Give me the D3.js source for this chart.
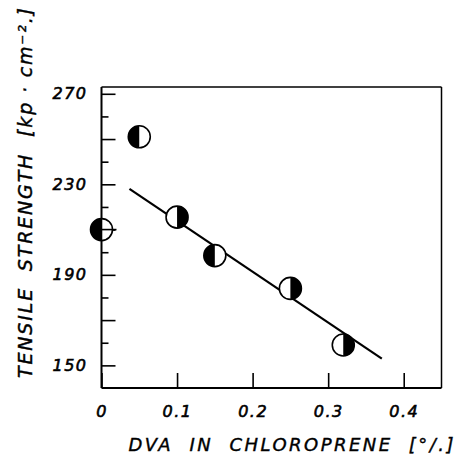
<!DOCTYPE html>
<html>
<head>
<meta charset="utf-8">
<script src="https://cdn.jsdelivr.net/npm/d3@7"></script>
<style>
  body { margin: 0; background: #fff; }
  text { font-family: "DejaVu Sans", sans-serif; font-style: italic; fill: #000; }
</style>
</head>
<body>
<svg id="chart" width="457" height="466"></svg>
<script>
// data
let dva = [0, 0.05, 0.1, 0.15, 0.25, 0.32];
let strength = [210, 251, 215.5, 198.5, 184, 159];
let blackHalf = ["left", "left", "right", "left", "right", "right"];
let fitX = [0.037, 0.371];
let fitY = [228, 153];
let xTicks = [0, 0.1, 0.2, 0.3, 0.4];
let yLabelTicks = [150, 190, 230, 270];
let yLongTicks = [170, 210, 250];
let yShortTicks = [160, 180, 200, 220, 240, 260];

let svg = d3.select("#chart");

let x = d3.scaleLinear().domain([0, 0.45]).range([101.5, 441.5]),
    y = d3.scaleLinear().domain([140, 273]).range([388, 87]);

let fLeft = x(0), fRight = x(0.45), fTop = y(273), fBottom = y(140);

// frame
svg.append("line").attr("x1", fLeft).attr("x2", fRight).attr("y1", fTop).attr("y2", fTop)
  .attr("stroke", "#000").attr("stroke-width", 1.5);
svg.append("line").attr("x1", fRight).attr("x2", fRight).attr("y1", fTop).attr("y2", fBottom)
  .attr("stroke", "#000").attr("stroke-width", 1.5);
svg.append("line").attr("x1", fLeft).attr("x2", fRight).attr("y1", fBottom).attr("y2", fBottom)
  .attr("stroke", "#000").attr("stroke-width", 2);
svg.append("line").attr("x1", fLeft).attr("x2", fLeft).attr("y1", fTop).attr("y2", fBottom)
  .attr("stroke", "#000").attr("stroke-width", 2);

// y axis (ticks inside, labels outside)
let yMajor = svg.append("g")
  .attr("transform", "translate(" + fLeft + ",0)")
  .call(d3.axisLeft(y).tickValues(yLabelTicks).tickSize(-14).tickPadding(14).tickFormat(d3.format("d")));
let yLong = svg.append("g")
  .attr("transform", "translate(" + fLeft + ",0)")
  .call(d3.axisLeft(y).tickValues(yLongTicks).tickSize(-14).tickFormat(""));
let yShort = svg.append("g")
  .attr("transform", "translate(" + fLeft + ",0)")
  .call(d3.axisLeft(y).tickValues(yShortTicks).tickSize(-7).tickFormat(""));

// x axis
let xAxis = svg.append("g")
  .attr("transform", "translate(0," + fBottom + ")")
  .call(d3.axisBottom(x).tickValues(xTicks).tickSize(-15).tickPadding(18)
    .tickFormat(function (d) { return d === 0 ? "0" : d.toFixed(1); }));

[yMajor, yLong, yShort, xAxis].forEach(function (g) {
  g.select(".domain").remove();
  g.selectAll(".tick line").attr("stroke", "#000").attr("stroke-width", 1.6);
  g.selectAll(".tick text")
    .style("font-family", "DejaVu Sans")
    .style("font-style", "italic")
    .style("font-size", "16px")
    .attr("stroke", "#000")
    .attr("stroke-width", 0.6)
    .attr("letter-spacing", 1.5);
});

// fitted line
svg.append("line")
  .attr("x1", x(fitX[0])).attr("y1", y(fitY[0]))
  .attr("x2", x(fitX[1])).attr("y2", y(fitY[1]))
  .attr("stroke", "#000").attr("stroke-width", 2.2);

// half filled circles
let r = 11;
let pts = svg.append("g").selectAll("g")
  .data(dva.map(function (d, i) { return {x: d, y: strength[i], side: blackHalf[i]}; }))
  .enter().append("g")
  .attr("transform", function (d) { return "translate(" + x(d.x) + "," + y(d.y) + ")"; });

pts.append("circle").attr("r", r).attr("fill", "#fff");
pts.append("path")
  .attr("d", function (d) {
    return "M0," + (-r) + "A" + r + "," + r + " 0 0 " + (d.side === "left" ? 0 : 1) + " 0," + r + "Z";
  })
  .attr("fill", "#000");
pts.append("circle").attr("r", r).attr("fill", "none").attr("stroke", "#000").attr("stroke-width", 1.6);

// axis and tick through the first point
svg.append("line").attr("x1", fLeft).attr("x2", fLeft).attr("y1", y(strength[0]) - r).attr("y2", y(strength[0]) + r)
  .attr("stroke", "#000").attr("stroke-width", 1.6);
svg.append("line").attr("x1", fLeft).attr("x2", fLeft + 15).attr("y1", y(210)).attr("y2", y(210))
  .attr("stroke", "#000").attr("stroke-width", 1.6);

// axis titles
svg.append("text")
  .attr("transform", "translate(32,193) rotate(-90)")
  .attr("text-anchor", "middle")
  .attr("textLength", 370)
  .attr("lengthAdjust", "spacing")
  .attr("stroke", "#000")
  .attr("stroke-width", 0.4)
  .style("white-space", "pre")
  .style("font-size", "19px")
  .text("TENSILE  STRENGTH  [kp · cm⁻².]");

svg.append("text")
  .attr("x", 291)
  .attr("y", 451)
  .attr("text-anchor", "middle")
  .attr("textLength", 325)
  .attr("lengthAdjust", "spacing")
  .attr("stroke", "#000")
  .attr("stroke-width", 0.4)
  .style("white-space", "pre")
  .style("font-size", "18px")
  .text("DVA  IN  CHLOROPRENE  [°/.]");
</script>
</body>
</html>
